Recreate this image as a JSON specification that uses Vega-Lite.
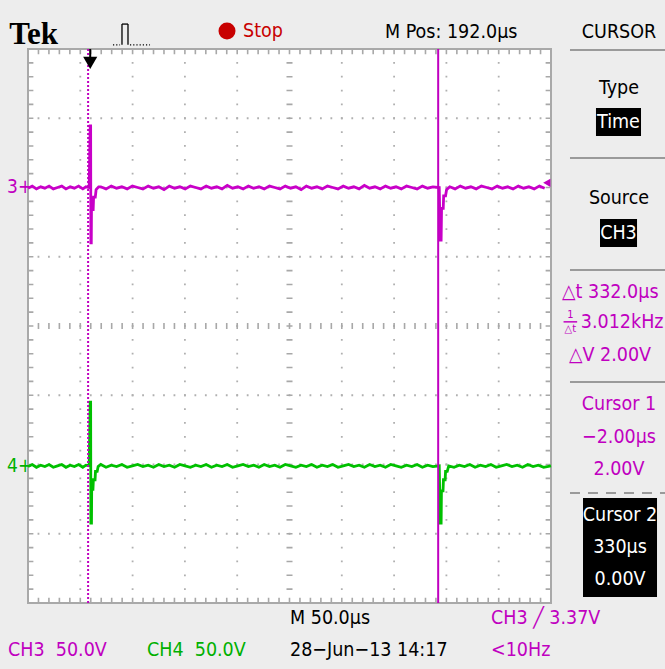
{
  "$schema": "https://vega.github.io/schema/vega-lite/v6.json",
  "width": 523,
  "height": 554,
  "autosize": {"type": "none"},
  "padding": {"left": 28, "top": 49, "right": 114, "bottom": 66},
  "background": "#ededed",
  "config": {
    "view": {"fill": "#ffffff", "stroke": "#a9a9a9", "strokeWidth": 2},
    "axis": {"disable": true},
    "text": {"font": "Liberation Sans Narrow, DejaVu Sans Condensed, sans-serif", "fontSize": 19.5, "baseline": "middle", "align": "left", "color": "#000000"}
  },
  "data": {"values": [{}]},
  "datasets": {
    "gridX": [{"div": 1}, {"div": 2}, {"div": 3}, {"div": 4}, {"div": 6}, {"div": 7}, {"div": 8}, {"div": 9}],
    "gridY": [{"div": -3}, {"div": -2}, {"div": -1}, {"div": 1}, {"div": 2}, {"div": 3}],
    "cursors": [{"cursor": "Cursor 1", "t": -2}, {"cursor": "Cursor 2", "t": 330}],
    "ch3": [
      {"t": -59, "v": 1.99}, {"t": -55, "v": 2.02}, {"t": -51, "v": 1.98}, {"t": -47, "v": 2.01}, {"t": -43, "v": 1.99},
      {"t": -39, "v": 2.02}, {"t": -35, "v": 1.98}, {"t": -31, "v": 2.0}, {"t": -27, "v": 2.02}, {"t": -23, "v": 1.98},
      {"t": -19, "v": 2.01}, {"t": -15, "v": 1.99}, {"t": -11, "v": 2.02}, {"t": -7, "v": 1.98}, {"t": -4, "v": 2.01},
      {"t": -1, "v": 2.0}, {"t": 0, "v": 2.89}, {"t": 0.4, "v": 2.89}, {"t": 0.6, "v": 1.2}, {"t": 1.0, "v": 1.2},
      {"t": 1.2, "v": 1.68}, {"t": 2.8, "v": 1.68}, {"t": 3.2, "v": 1.86}, {"t": 4.8, "v": 1.86}, {"t": 5.6, "v": 1.97},
      {"t": 8, "v": 2.01}, {"t": 10, "v": 2.01}, {"t": 15, "v": 1.98}, {"t": 20, "v": 2.02}, {"t": 25, "v": 1.99},
      {"t": 30, "v": 2.01}, {"t": 35, "v": 1.98}, {"t": 40, "v": 2.02}, {"t": 45, "v": 2.0}, {"t": 50, "v": 1.98},
      {"t": 55, "v": 2.02}, {"t": 60, "v": 1.99}, {"t": 65, "v": 2.01}, {"t": 70, "v": 1.97}, {"t": 75, "v": 2.02},
      {"t": 80, "v": 1.99}, {"t": 85, "v": 2.01}, {"t": 90, "v": 1.98}, {"t": 95, "v": 2.02}, {"t": 100, "v": 2.0},
      {"t": 105, "v": 1.98}, {"t": 110, "v": 2.02}, {"t": 115, "v": 1.99}, {"t": 120, "v": 2.01}, {"t": 125, "v": 1.98},
      {"t": 130, "v": 2.03}, {"t": 135, "v": 1.99}, {"t": 140, "v": 2.01}, {"t": 145, "v": 1.98}, {"t": 150, "v": 2.02},
      {"t": 155, "v": 1.99}, {"t": 160, "v": 2.01}, {"t": 165, "v": 1.98}, {"t": 170, "v": 2.02}, {"t": 175, "v": 2.0},
      {"t": 180, "v": 1.98}, {"t": 185, "v": 2.02}, {"t": 190, "v": 1.99}, {"t": 195, "v": 2.01}, {"t": 200, "v": 1.97},
      {"t": 205, "v": 2.02}, {"t": 210, "v": 1.99}, {"t": 215, "v": 2.01}, {"t": 220, "v": 1.98}, {"t": 225, "v": 2.02},
      {"t": 230, "v": 2.0}, {"t": 235, "v": 1.98}, {"t": 240, "v": 2.02}, {"t": 245, "v": 1.99}, {"t": 250, "v": 2.01},
      {"t": 255, "v": 1.98}, {"t": 260, "v": 2.03}, {"t": 265, "v": 1.99}, {"t": 270, "v": 2.01}, {"t": 275, "v": 1.98},
      {"t": 280, "v": 2.02}, {"t": 285, "v": 1.99}, {"t": 290, "v": 2.01}, {"t": 295, "v": 1.98}, {"t": 300, "v": 2.02},
      {"t": 305, "v": 2.0}, {"t": 310, "v": 1.98}, {"t": 315, "v": 2.02}, {"t": 320, "v": 1.99}, {"t": 325, "v": 2.01},
      {"t": 331, "v": 2.0}, {"t": 332, "v": 1.24}, {"t": 332.8, "v": 1.24}, {"t": 333.2, "v": 1.7}, {"t": 334.8, "v": 1.7},
      {"t": 335.2, "v": 1.88}, {"t": 337, "v": 1.88}, {"t": 338, "v": 1.97}, {"t": 341, "v": 2.01}, {"t": 346, "v": 1.98},
      {"t": 351, "v": 2.02}, {"t": 356, "v": 1.99}, {"t": 361, "v": 2.01}, {"t": 366, "v": 1.98}, {"t": 371, "v": 2.02},
      {"t": 376, "v": 2.0}, {"t": 381, "v": 1.98}, {"t": 386, "v": 2.02}, {"t": 391, "v": 1.99}, {"t": 396, "v": 2.01},
      {"t": 401, "v": 1.98}, {"t": 406, "v": 2.02}, {"t": 411, "v": 1.99}, {"t": 416, "v": 2.01}, {"t": 421, "v": 1.98},
      {"t": 426, "v": 2.02}, {"t": 431, "v": 1.99}
    ],
    "ch4": [
      {"t": -59, "v": -2.03}, {"t": -55, "v": -2.0}, {"t": -51, "v": -2.04}, {"t": -47, "v": -2.01}, {"t": -43, "v": -2.03},
      {"t": -39, "v": -2.0}, {"t": -35, "v": -2.04}, {"t": -31, "v": -2.02}, {"t": -27, "v": -2.0}, {"t": -23, "v": -2.04},
      {"t": -19, "v": -2.01}, {"t": -15, "v": -2.03}, {"t": -11, "v": -2.0}, {"t": -7, "v": -2.04}, {"t": -4, "v": -2.01},
      {"t": -1, "v": -2.02}, {"t": 0, "v": -1.1}, {"t": 0.4, "v": -1.1}, {"t": 0.6, "v": -2.845}, {"t": 1.2, "v": -2.845},
      {"t": 1.4, "v": -2.36}, {"t": 2.6, "v": -2.36}, {"t": 3.0, "v": -2.22}, {"t": 4.6, "v": -2.22}, {"t": 5.0, "v": -2.1},
      {"t": 6.6, "v": -2.1}, {"t": 7.5, "v": -2.03}, {"t": 10, "v": -2.0}, {"t": 15, "v": -2.04}, {"t": 20, "v": -2.01},
      {"t": 25, "v": -2.03}, {"t": 30, "v": -2.0}, {"t": 35, "v": -2.04}, {"t": 40, "v": -2.02}, {"t": 45, "v": -2.0},
      {"t": 50, "v": -2.03}, {"t": 55, "v": -2.01}, {"t": 60, "v": -2.04}, {"t": 65, "v": -2.0}, {"t": 70, "v": -2.03},
      {"t": 75, "v": -2.01}, {"t": 80, "v": -2.04}, {"t": 85, "v": -2.0}, {"t": 90, "v": -2.02}, {"t": 95, "v": -2.04},
      {"t": 100, "v": -2.01}, {"t": 105, "v": -2.03}, {"t": 110, "v": -2.0}, {"t": 115, "v": -2.04}, {"t": 120, "v": -2.01},
      {"t": 125, "v": -2.03}, {"t": 130, "v": -2.0}, {"t": 135, "v": -2.04}, {"t": 140, "v": -2.02}, {"t": 145, "v": -2.0},
      {"t": 150, "v": -2.03}, {"t": 155, "v": -2.01}, {"t": 160, "v": -2.04}, {"t": 165, "v": -2.0}, {"t": 170, "v": -2.03},
      {"t": 175, "v": -2.01}, {"t": 180, "v": -2.04}, {"t": 185, "v": -2.0}, {"t": 190, "v": -2.02}, {"t": 195, "v": -2.04},
      {"t": 200, "v": -2.01}, {"t": 205, "v": -2.03}, {"t": 210, "v": -2.0}, {"t": 215, "v": -2.04}, {"t": 220, "v": -2.01},
      {"t": 225, "v": -2.03}, {"t": 230, "v": -2.0}, {"t": 235, "v": -2.04}, {"t": 240, "v": -2.02}, {"t": 245, "v": -2.0},
      {"t": 250, "v": -2.03}, {"t": 255, "v": -2.01}, {"t": 260, "v": -2.04}, {"t": 265, "v": -2.0}, {"t": 270, "v": -2.03},
      {"t": 275, "v": -2.01}, {"t": 280, "v": -2.04}, {"t": 285, "v": -2.0}, {"t": 290, "v": -2.02}, {"t": 295, "v": -2.04},
      {"t": 300, "v": -2.01}, {"t": 305, "v": -2.03}, {"t": 310, "v": -2.0}, {"t": 315, "v": -2.04}, {"t": 320, "v": -2.01},
      {"t": 325, "v": -2.03}, {"t": 331, "v": -2.02}, {"t": 332, "v": -2.845}, {"t": 332.8, "v": -2.845}, {"t": 333.1, "v": -2.38},
      {"t": 334.6, "v": -2.38}, {"t": 335, "v": -2.22}, {"t": 336.6, "v": -2.22}, {"t": 337, "v": -2.1}, {"t": 338.6, "v": -2.1},
      {"t": 340, "v": -2.02}, {"t": 345, "v": -2.04}, {"t": 350, "v": -2.01}, {"t": 355, "v": -2.03}, {"t": 360, "v": -2.0},
      {"t": 365, "v": -2.04}, {"t": 370, "v": -2.01}, {"t": 375, "v": -2.03}, {"t": 380, "v": -2.0}, {"t": 385, "v": -2.04},
      {"t": 390, "v": -2.02}, {"t": 395, "v": -2.0}, {"t": 400, "v": -2.03}, {"t": 405, "v": -2.01}, {"t": 410, "v": -2.04},
      {"t": 415, "v": -2.0}, {"t": 420, "v": -2.03}, {"t": 425, "v": -2.01}, {"t": 430, "v": -2.04}, {"t": 437, "v": -2.02}
    ]
  },
  "resolve": {"scale": {"x": "independent"}},
  "layer": [
    {
      "layer": [
        {
          "data": {"name": "gridX"},
          "mark": {"type": "rule", "color": "#b0b0b0", "strokeWidth": 1.8, "strokeDash": [1.8, 12.05], "strokeDashOffset": 0.9},
          "encoding": {
            "x": {"field": "div", "type": "quantitative", "scale": {"domain": [0, 10], "nice": false, "zero": false}},
            "y": {"datum": -4, "scale": {"domain": [-4, 4], "nice": false, "zero": false}},
            "y2": {"datum": 4}
          }
        },
        {
          "data": {"name": "gridY"},
          "mark": {"type": "rule", "color": "#b0b0b0", "strokeWidth": 1.8, "strokeDash": [1.8, 8.66], "strokeDashOffset": 0.9},
          "encoding": {"y": {"field": "div", "type": "quantitative"}, "x": {"datum": 0}, "x2": {"datum": 10}}
        },
        {
          "mark": {"type": "rule", "color": "#a8a8a8", "strokeWidth": 6, "strokeDash": [1.6, 8.86], "strokeDashOffset": 0.8},
          "encoding": {"y": {"datum": 0}, "x": {"datum": 0}, "x2": {"datum": 10}}
        },
        {
          "mark": {"type": "rule", "color": "#a8a8a8", "strokeWidth": 6, "strokeDash": [1.6, 12.25], "strokeDashOffset": 0.8},
          "encoding": {"x": {"datum": 5}, "y": {"datum": -4}, "y2": {"datum": 4}}
        },
        {
          "mark": {"type": "rule", "color": "#a8a8a8", "strokeWidth": 5, "strokeDash": [1.6, 8.86], "strokeDashOffset": 0.8},
          "encoding": {"y": {"datum": 3.96}, "x": {"datum": 0}, "x2": {"datum": 10}}
        },
        {
          "mark": {"type": "rule", "color": "#a8a8a8", "strokeWidth": 5, "strokeDash": [1.6, 8.86], "strokeDashOffset": 0.8},
          "encoding": {"y": {"datum": -3.96}, "x": {"datum": 0}, "x2": {"datum": 10}}
        },
        {
          "mark": {"type": "rule", "color": "#a8a8a8", "strokeWidth": 5, "strokeDash": [1.6, 12.25], "strokeDashOffset": 0.8},
          "encoding": {"x": {"datum": 0.055}, "y": {"datum": -4}, "y2": {"datum": 4}}
        },
        {
          "mark": {"type": "rule", "color": "#a8a8a8", "strokeWidth": 5, "strokeDash": [1.6, 12.25], "strokeDashOffset": 0.8},
          "encoding": {"x": {"datum": 9.945}, "y": {"datum": -4}, "y2": {"datum": 4}}
        },

        {"mark": {"type": "text", "text": "Tek", "font": "Liberation Serif", "fontWeight": "bold", "fontSize": 31},
         "encoding": {"x": {"datum": -0.36}, "y": {"datum": 4.2}}},
        {"mark": {"type": "rule", "color": "#000000", "strokeWidth": 1.3, "strokeDash": [1.2, 2]},
         "encoding": {"x": {"datum": 1.625}, "x2": {"datum": 1.76}, "y": {"datum": 4.06}}},
        {"mark": {"type": "rule", "color": "#000000", "strokeWidth": 1.3, "strokeDash": [1.2, 2]},
         "encoding": {"x": {"datum": 1.95}, "x2": {"datum": 2.333}, "y": {"datum": 4.06}}},
        {"mark": {"type": "rule", "color": "#000000", "strokeWidth": 1.3},
         "encoding": {"x": {"datum": 1.797}, "y": {"datum": 4.06}, "y2": {"datum": 4.36}}},
        {"mark": {"type": "rule", "color": "#000000", "strokeWidth": 1.3},
         "encoding": {"x": {"datum": 1.912}, "y": {"datum": 4.06}, "y2": {"datum": 4.36}}},
        {"mark": {"type": "rule", "color": "#000000", "strokeWidth": 1.3},
         "encoding": {"x": {"datum": 1.797}, "x2": {"datum": 1.912}, "y": {"datum": 4.36}}},
        {"mark": {"type": "point", "shape": "circle", "filled": true, "size": 290, "color": "#c80000", "opacity": 1},
         "encoding": {"x": {"datum": 3.805}, "y": {"datum": 4.26}}},
        {"mark": {"type": "text", "text": "Stop", "color": "#c80000"},
         "encoding": {"x": {"datum": 4.111}, "y": {"datum": 4.255}}},
        {"mark": {"type": "text", "text": "M Pos: 192.0µs"},
         "encoding": {"x": {"datum": 6.826}, "y": {"datum": 4.245}}},
        {"mark": {"type": "text", "text": "CURSOR", "align": "center"},
         "encoding": {"x": {"datum": 11.3}, "y": {"datum": 4.245}}},

        {"mark": {"type": "rule", "color": "#9a9a9a", "strokeWidth": 2},
         "encoding": {"x": {"datum": 10.363}, "x2": {"datum": 12.18}, "y": {"datum": 3.986}}},
        {"mark": {"type": "rule", "color": "#9a9a9a", "strokeWidth": 2},
         "encoding": {"x": {"datum": 10.363}, "x2": {"datum": 12.18}, "y": {"datum": 2.426}}},
        {"mark": {"type": "rule", "color": "#9a9a9a", "strokeWidth": 2},
         "encoding": {"x": {"datum": 10.363}, "x2": {"datum": 12.18}, "y": {"datum": 0.809}}},
        {"mark": {"type": "rule", "color": "#9a9a9a", "strokeWidth": 2},
         "encoding": {"x": {"datum": 10.363}, "x2": {"datum": 12.18}, "y": {"datum": -0.809}}},
        {"mark": {"type": "rule", "color": "#9a9a9a", "strokeWidth": 2, "strokeDash": [10, 8]},
         "encoding": {"x": {"datum": 10.363}, "x2": {"datum": 12.18}, "y": {"datum": -2.412}}},

        {"mark": {"type": "text", "text": "Type", "align": "center"},
         "encoding": {"x": {"datum": 11.3}, "y": {"datum": 3.437}}},
        {"mark": {"type": "rect", "color": "#000000"},
         "encoding": {"x": {"datum": 10.86}, "x2": {"datum": 11.721}, "y": {"datum": 3.148}, "y2": {"datum": 2.744}}},
        {"mark": {"type": "text", "text": "Time", "align": "center", "color": "#ffffff"},
         "encoding": {"x": {"datum": 11.29}, "y": {"datum": 2.946}}},
        {"mark": {"type": "text", "text": "Source", "align": "center"},
         "encoding": {"x": {"datum": 11.3}, "y": {"datum": 1.848}}},
        {"mark": {"type": "rect", "color": "#000000"},
         "encoding": {"x": {"datum": 10.937}, "x2": {"datum": 11.645}, "y": {"datum": 1.545}, "y2": {"datum": 1.141}}},
        {"mark": {"type": "text", "text": "CH3", "align": "center", "color": "#ffffff"},
         "encoding": {"x": {"datum": 11.29}, "y": {"datum": 1.343}}},

        {"mark": {"type": "text", "text": "△t 332.0µs", "color": "#c000c0"},
         "encoding": {"x": {"datum": 10.212}, "y": {"datum": 0.491}}},
        {"mark": {"type": "text", "text": "1", "align": "center", "fontSize": 11, "color": "#c000c0"},
         "encoding": {"x": {"datum": 10.37}, "y": {"datum": 0.16}}},
        {"mark": {"type": "rule", "color": "#c000c0", "strokeWidth": 1.5},
         "encoding": {"x": {"datum": 10.24}, "x2": {"datum": 10.5}, "y": {"datum": 0.06}}},
        {"mark": {"type": "text", "text": "△t", "align": "center", "fontSize": 11, "color": "#c000c0"},
         "encoding": {"x": {"datum": 10.37}, "y": {"datum": -0.05}}},
        {"mark": {"type": "text", "text": "3.012kHz", "color": "#c000c0"},
         "encoding": {"x": {"datum": 10.57}, "y": {"datum": 0.058}}},
        {"mark": {"type": "text", "text": "△V 2.00V", "align": "center", "color": "#c000c0"},
         "encoding": {"x": {"datum": 11.128}, "y": {"datum": -0.419}}},

        {"mark": {"type": "text", "text": "Cursor 1", "align": "center", "color": "#c000c0"},
         "encoding": {"x": {"datum": 11.3}, "y": {"datum": -1.126}}},
        {"mark": {"type": "text", "text": "−2.00µs", "align": "center", "color": "#c000c0"},
         "encoding": {"x": {"datum": 11.3}, "y": {"datum": -1.603}}},
        {"mark": {"type": "text", "text": "2.00V", "align": "center", "color": "#c000c0"},
         "encoding": {"x": {"datum": 11.3}, "y": {"datum": -2.065}}},

        {"mark": {"type": "rect", "color": "#000000"},
         "encoding": {"x": {"datum": 10.612}, "x2": {"datum": 12.027}, "y": {"datum": -2.484}, "y2": {"datum": -3.913}}},
        {"mark": {"type": "text", "text": "Cursor 2", "align": "center", "color": "#ffffff"},
         "encoding": {"x": {"datum": 11.32}, "y": {"datum": -2.729}}},
        {"mark": {"type": "text", "text": "330µs", "align": "center", "color": "#ffffff"},
         "encoding": {"x": {"datum": 11.32}, "y": {"datum": -3.191}}},
        {"mark": {"type": "text", "text": "0.00V", "align": "center", "color": "#ffffff"},
         "encoding": {"x": {"datum": 11.32}, "y": {"datum": -3.653}}},

        {"mark": {"type": "text", "text": "M 50.0µs"},
         "encoding": {"x": {"datum": 5.01}, "y": {"datum": -4.217}}},
        {"mark": {"type": "text", "text": "CH3 ╱ 3.37V", "color": "#c000c0"},
         "encoding": {"x": {"datum": 8.853}, "y": {"datum": -4.217}}},
        {"mark": {"type": "text", "text": "CH3\u00a0\u00a050.0V", "color": "#c000c0"},
         "encoding": {"x": {"datum": -0.382}, "y": {"datum": -4.679}}},
        {"mark": {"type": "text", "text": "CH4\u00a0\u00a050.0V", "color": "#00b000"},
         "encoding": {"x": {"datum": 2.275}, "y": {"datum": -4.679}}},
        {"mark": {"type": "text", "text": "28−Jun−13 14:17"},
         "encoding": {"x": {"datum": 5.01}, "y": {"datum": -4.679}}},
        {"mark": {"type": "text", "text": "<10Hz", "color": "#c000c0"},
         "encoding": {"x": {"datum": 8.853}, "y": {"datum": -4.679}}},

        {"mark": {"type": "text", "text": "3+", "fontSize": 19, "color": "#c000c0"},
         "encoding": {"x": {"datum": -0.4}, "y": {"datum": 2.007}}},
        {"mark": {"type": "text", "text": "4+", "fontSize": 19, "color": "#00b000"},
         "encoding": {"x": {"datum": -0.4}, "y": {"datum": -2.022}}}
      ]
    },
    {
      "layer": [
        {
          "data": {"name": "ch3"},
          "mark": {"type": "line", "color": "#c800c8", "strokeWidth": 2.8},
          "encoding": {
            "x": {"field": "t", "type": "quantitative", "scale": {"domain": [-59, 437], "nice": false, "zero": false}},
            "y": {"field": "v", "type": "quantitative"}
          }
        },
        {
          "data": {"name": "ch4"},
          "mark": {"type": "line", "color": "#00c000", "strokeWidth": 2.8},
          "encoding": {"x": {"field": "t", "type": "quantitative"}, "y": {"field": "v", "type": "quantitative"}}
        },
        {
          "data": {"name": "cursors"},
          "transform": [{"filter": "datum.cursor === 'Cursor 1'"}],
          "mark": {"type": "rule", "color": "#c000c0", "strokeWidth": 2, "strokeDash": [2, 2]},
          "encoding": {"x": {"field": "t", "type": "quantitative"}, "y": {"datum": -4}, "y2": {"datum": 4}}
        },
        {
          "data": {"name": "cursors"},
          "transform": [{"filter": "datum.cursor === 'Cursor 2'"}],
          "mark": {"type": "rule", "color": "#c000c0", "strokeWidth": 2},
          "encoding": {"x": {"field": "t", "type": "quantitative"}, "y": {"datum": -4}, "y2": {"datum": 4}}
        },
        {
          "mark": {"type": "rule", "color": "#000000", "strokeWidth": 2},
          "encoding": {"x": {"datum": 0}, "y": {"datum": 4}, "y2": {"datum": 3.86}}
        },
        {
          "mark": {"type": "point", "shape": "triangle-down", "filled": true, "size": 200, "color": "#000000", "opacity": 1},
          "encoding": {"x": {"datum": 0}, "y": {"datum": 3.8}}
        },
        {
          "mark": {"type": "point", "shape": "triangle-left", "filled": true, "size": 70, "color": "#c000c0", "opacity": 1},
          "encoding": {"x": {"datum": 433}, "y": {"datum": 2.067}}
        }
      ]
    }
  ]
}
